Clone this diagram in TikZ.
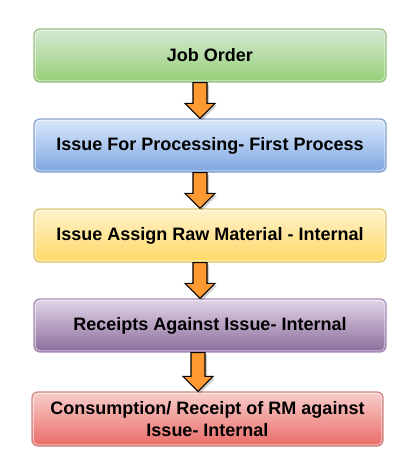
\documentclass[tikz,border=0pt]{standalone}
\usepackage{fontspec}
\setmainfont{Liberation Sans}
\usetikzlibrary{calc}
\definecolor{gtop}{HTML}{D5E8D4}\definecolor{gbot}{HTML}{97D077}\definecolor{gline}{HTML}{82B366}
\definecolor{btop}{HTML}{DAE8FC}\definecolor{bbot}{HTML}{7EA6E0}\definecolor{bline}{HTML}{6C8EBF}
\definecolor{ytop}{HTML}{FFF2CC}\definecolor{ybot}{HTML}{FFD966}\definecolor{yline}{HTML}{D6B656}
\definecolor{ptop}{HTML}{E1D5E7}\definecolor{pbot}{HTML}{8C6C9C}\definecolor{pline}{HTML}{9673A6}
\definecolor{rtop}{HTML}{F8CECC}\definecolor{rbot}{HTML}{EA6B66}\definecolor{rline}{HTML}{B85450}
\definecolor{arrfill}{HTML}{FF9A33}
\tikzset{
  flowbox/.style={rounded corners=6pt, line width=1.3pt, minimum height=53pt,
    minimum width=352pt, inner sep=0pt, align=center,
    font=\fontsize{18}{22}\selectfont\bfseries, text=black},
  boxgreen/.style={flowbox, draw=gline!80, top color=gtop, bottom color=gbot},
  boxblue/.style={flowbox, draw=bline!80, top color=btop, bottom color=bbot},
  boxyellow/.style={flowbox, draw=yline!80, top color=ytop, bottom color=ybot},
  boxpurple/.style={flowbox, draw=pline!80, top color=ptop, bottom color=pbot},
  boxred/.style={flowbox, draw=rline!70, top color=rtop, bottom color=rbot},
  innerline/.style={draw=white, opacity=0.55, line width=0.8pt, rounded corners=4.5pt},
  barrow/.style={fill=arrfill, draw=black, line width=1.1pt, line join=miter},
  barrowshadow/.style={fill=black, opacity=0.2, draw=none},
}
\newcommand\innerrim[1]{\path[innerline] ($(#1.north west)+(2,2)$) rectangle ($(#1.south east)+(-2,-2)$);}
% #1 from node, #2 to node, #3 x offset from #1 center
\newcommand\flowarrow[3]{%
  \path[barrowshadow] let \p1=($(#1.south)+(#3,0)$), \p2=(#2.north) in
    (\x1-7pt+2pt,\y1-2pt) -- (\x1+7pt+2pt,\y1-2pt) -- (\x1+7pt+2pt,\y2+15pt-2pt) -- (\x1+15pt+2pt,\y2+15pt-2pt)
    -- (\x1+2pt,\y2-2pt) -- (\x1-15pt+2pt,\y2+15pt-2pt) -- (\x1-7pt+2pt,\y2+15pt-2pt) -- cycle;
  \path[barrow] let \p1=($(#1.south)+(#3,0)$), \p2=(#2.north) in
    (\x1-7pt,\y1) -- (\x1+7pt,\y1) -- (\x1+7pt,\y2+15pt) -- (\x1+15pt,\y2+15pt)
    -- (\x1,\y2) -- (\x1-15pt,\y2+15pt) -- (\x1-7pt,\y2+15pt) -- cycle;}
\begin{document}
\begin{tikzpicture}[x=1pt,y=-1pt]
\useasboundingbox[fill=white] (0,0) rectangle (418,475);
\node[boxgreen]  (n1) at (210,55.5)  {Job Order};
\node[boxblue]   (n2) at (210,145.5) {Issue For Processing- First Process};
\node[boxyellow] (n3) at (210,235.5) {Issue Assign Raw Material - Internal};
\node[boxpurple] (n4) at (210,325.5) {Receipts Against Issue- Internal};
\node[boxred, minimum width=351pt, minimum height=54pt] (n5) at (207.5,419) {Consumption/ Receipt of RM against\\Issue- Internal};
\innerrim{n1}\innerrim{n2}\innerrim{n3}\innerrim{n4}\innerrim{n5}
\flowarrow{n1}{n2}{-10}
\flowarrow{n2}{n3}{-10}
\flowarrow{n3}{n4}{-10}
\flowarrow{n4}{n5}{-12}
\end{tikzpicture}
\end{document}
